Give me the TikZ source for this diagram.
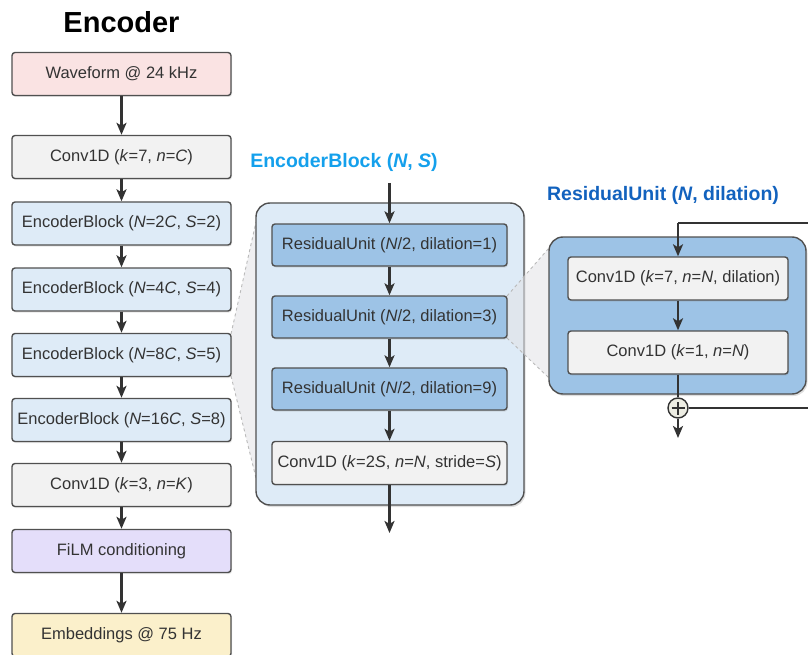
\documentclass[tikz,border=0pt]{standalone}
\usepackage{fontspec}
\setmainfont{Liberation Sans}
\usetikzlibrary{arrows.meta,shadows}
\definecolor{txt}{HTML}{333333}
\definecolor{boxline}{HTML}{505050}
\definecolor{wavefill}{HTML}{FAE3E3}
\definecolor{convfill}{HTML}{F2F2F2}
\definecolor{ebfill}{HTML}{DEEBF7}
\definecolor{filmfill}{HTML}{E4DEFA}
\definecolor{embfill}{HTML}{FBF0CB}
\definecolor{rufill}{HTML}{9DC3E6}
\definecolor{ebtitle}{HTML}{14A0EC}
\definecolor{rutitle}{HTML}{1262BE}
\definecolor{fangray}{HTML}{E2E2E6}
\definecolor{plusfill}{HTML}{EDEDE3}

\begin{document}
\begin{tikzpicture}[x=1pt,y=-1pt,
	box/.style={draw=boxline, line width=1.4pt, rounded corners=3pt, text=txt,
		font=\fontsize{16.5}{19}\selectfont, inner sep=0pt,
		drop shadow={shadow xshift=1pt, shadow yshift=-1.5pt, opacity=0.2}},
	leftbox/.style={box, minimum width=219pt, minimum height=43pt},
	unitbox/.style={box, minimum width=235pt, minimum height=42pt},
	resbox/.style={box, minimum width=220pt, minimum height=43pt},
	bigbox/.style={draw=boxline, line width=1.4pt, rounded corners=14pt,
		drop shadow={shadow xshift=1.5pt, shadow yshift=-2pt, opacity=0.25}},
	flow/.style={draw=txt, line width=2.4pt, -{Stealth[length=12pt,width=10pt,inset=3pt]}},
	wire/.style={draw=txt, line width=2.4pt},
	fan/.style={fill=fangray, opacity=0.55},
	fanedge/.style={draw=gray!55, line width=0.9pt, dashed},
	title/.style={font=\fontsize{#1}{#1}\selectfont\bfseries}]
	%%%%% START %%%%%

	\useasboundingbox (0,0) rectangle (808,655);

	% zoom fan from EncoderBlock (N=8C) to the EncoderBlock panel
	\fill[fan] (231,334) -- (256,222) -- (256,478) -- (231,376) -- cycle;
	\draw[fanedge] (231,334) -- (256,222);
	\draw[fanedge] (231,376) -- (256,478);

	% left column
	\node[title=29, text=black] (enctitle) at (121.5,22) {Encoder};
	\node[leftbox, fill=wavefill] (wave) at (121.5,74) {Waveform @ 24 kHz};
	\node[leftbox, fill=convfill] (convin) at (121.5,157) {Conv1D (\textit{k}=7, \textit{n}=\textit{C})};
	\node[leftbox, fill=ebfill] (eb2) at (121.5,223.5) {EncoderBlock (\textit{N}=2\textit{C}, \textit{S}=2)};
	\node[leftbox, fill=ebfill] (eb4) at (121.5,289.5) {EncoderBlock (\textit{N}=4\textit{C}, \textit{S}=4)};
	\node[leftbox, fill=ebfill] (eb8) at (121.5,355) {EncoderBlock (\textit{N}=8\textit{C}, \textit{S}=5)};
	\node[leftbox, fill=ebfill] (eb16) at (121.5,420) {EncoderBlock (\textit{N}=16\textit{C}, \textit{S}=8)};
	\node[leftbox, fill=convfill] (convout) at (121.5,485) {Conv1D (\textit{k}=3, \textit{n}=\textit{K})};
	\node[leftbox, fill=filmfill] (film) at (121.5,551) {FiLM conditioning};
	\node[leftbox, fill=embfill] (emb) at (121.5,635) {Embeddings @ 75 Hz};

	\foreach \a/\b in {wave/convin, convin/eb2, eb2/eb4, eb4/eb8, eb8/eb16, eb16/convout, convout/film, film/emb}
		\draw[flow] (\a) -- (\b);

	% EncoderBlock panel
	\node[title=19.5, text=ebtitle] (ebtitle) at (344,162) {EncoderBlock (\textit{N}, \textit{S})};
	\node[bigbox, fill=ebfill, minimum width=268pt, minimum height=302pt] (encpanel) at (390,354) {};

	% zoom fan from ResidualUnit (dilation=3) to the ResidualUnit panel
	\fill[fan] (507,296) -- (549,248) -- (549,378) -- (507,338) -- cycle;
	\draw[fanedge] (507,296) -- (549,248);
	\draw[fanedge] (507,338) -- (549,378);

	\node[unitbox, fill=rufill] (ru1) at (389.5,245) {ResidualUnit (\textit{N}/2, dilation=1)};
	\node[unitbox, fill=rufill] (ru3) at (389.5,317) {ResidualUnit (\textit{N}/2, dilation=3)};
	\node[unitbox, fill=rufill] (ru9) at (389.5,389) {ResidualUnit (\textit{N}/2, dilation=9)};
	\node[unitbox, fill=convfill, minimum height=43pt] (convs) at (389.5,463) {Conv1D (\textit{k}=2\textit{S}, \textit{n}=\textit{N}, stride=\textit{S})};

	\coordinate (ebin) at (389.5,183);
	\coordinate (ebout) at (389.5,533);
	\draw[flow] (ebin) -- (ru1);
	\draw[flow] (ru1) -- (ru3);
	\draw[flow] (ru3) -- (ru9);
	\draw[flow] (ru9) -- (convs);
	\draw[flow] (convs) -- (ebout);

	% ResidualUnit panel
	\node[title=19.5, text=rutitle] (rutitle) at (663,195) {ResidualUnit (\textit{N}, dilation)};
	\node[bigbox, fill=rufill, minimum width=257pt, minimum height=157pt] (respanel) at (677.5,315.5) {};
	\node[resbox, fill=convfill] (rc7) at (678,278.5) {Conv1D (\textit{k}=7, \textit{n}=\textit{N}, dilation)};
	\node[resbox, fill=convfill] (rc1) at (678,352.5) {Conv1D (\textit{k}=1, \textit{n}=\textit{N})};
	\node[circle, draw=txt, line width=1.4pt, fill=plusfill, minimum size=20pt, inner sep=0pt] (plus) at (678,408) {};
	\draw[txt, line width=1.6pt] ([yshift=-6.5pt]plus.center) -- ([yshift=6.5pt]plus.center)
		([xshift=-6.5pt]plus.center) -- ([xshift=6.5pt]plus.center);

	\coordinate (ruin) at (678,223);
	\coordinate (ruout) at (678,438);
	\draw[flow] (ruin) -- (rc7);
	\draw[flow] (rc7) -- (rc1);
	\draw[wire] (rc1) -- (plus);
	\draw[flow] (plus) -- (ruout);
	\draw[wire] (ruin) -- (816,223) |- (plus.east);

	%%%%% END %%%%%
\end{tikzpicture}
\end{document}
